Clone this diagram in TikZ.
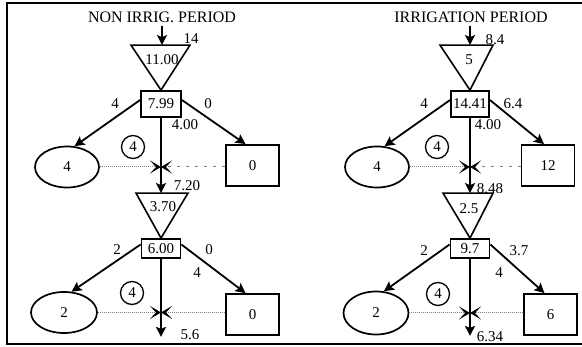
\documentclass[tikz,border=0pt]{standalone}
\usepackage{fontspec}
\setmainfont{Liberation Serif}
\usetikzlibrary{positioning, calc, arrows.meta, shapes.geometric}

\begin{document}
\begin{tikzpicture}[
    x=1pt,
    y=-1pt,
    font=\fontsize{15}{18}\selectfont,
    title/.style={
        font=\fontsize{16}{19}\selectfont,
    },
    storage/.style={
        draw,
        line width=1.8pt,
        inner sep=1pt,
        minimum width=39pt,
        minimum height=19pt,
    },
    user/.style={
        draw,
        ellipse,
        line width=1.7pt,
        minimum width=64pt,
        minimum height=41pt,
    },
    sink/.style={
        draw,
        line width=1.8pt,
        minimum width=53pt,
        minimum height=41pt,
    },
    crop/.style={
        draw,
        circle,
        line width=1.3pt,
        inner sep=0pt,
        minimum size=23pt,
    },
    reservoir/.style={
        line width=1.6pt,
        line join=miter,
    },
    flow/.style={
        -{Stealth[length=10pt, width=10pt, inset=2pt]},
        line width=1.8pt,
    },
    backflow/.style={
        -{Stealth[length=11pt, width=13pt, inset=6pt, black]},
        densely dotted,
        gray,
        line width=1pt,
    },
]

    \useasboundingbox (0,0) rectangle (582,347);
    \draw[line width=2.2pt] (582,3) -- (7,3) -- (7,344) -- (582,344);

    % non irrigation period
    \node[title] (titleN) at (162,17) {NON IRRIG. PERIOD};
    \node[storage, minimum width=40pt, minimum height=26pt] (storeN1) at (161,104) {7.99};
    \draw[reservoir] ($(storeN1.north)+(-30,-45)$) -- ($(storeN1.north)+(29,-45)$) -- (storeN1.north) -- cycle;
    \node (tankN1) at ($(storeN1.north)+(1,-30)$) {11.00};
    \coordinate (topN1) at ($(storeN1.north)+(1,-45)$);
    \coordinate (inN1) at ($(topN1)+(0,-19)$);
    \node[user] (userN1) at (67,167) {4};
    \node[sink] (sinkN1) at (252.5,165.5) {0};
    \node[crop] (cropN1) at (133,147) {4};
    \coordinate (mixN1) at (storeN1 |- userN1);

    \node[storage] (storeN2) at (161,248.5) {6.00};
    \draw[reservoir] ($(storeN2.north)+(-25,-45)$) -- ($(storeN2.north)+(27,-45)$) -- (storeN2.north) -- cycle;
    \node (tankN2) at ($(storeN2.north)+(2,-31)$) {3.70};
    \coordinate (topN2) at ($(storeN2.north)+(0,-45)$);
    \node[user, minimum width=66pt] (userN2) at (64,312.5) {2};
    \node[sink] (sinkN2) at (252.5,314.5) {0};
    \node[crop] (cropN2) at (132,293) {4};
    \coordinate (mixN2) at (storeN2 |- userN2);
    \coordinate (outN) at ($(storeN2.south)+(0,78)$);

    \draw[flow] (inN1) -- (topN1);
    \draw[flow] ($(storeN1.west)+(0,-4)$) -- (userN1.70);
    \draw[flow] ($(storeN1.east)+(0,-4)$) -- ([xshift=-7pt]sinkN1.north);
    \draw[flow] (storeN1.south) -- (topN2);
    \draw[backflow] (userN1.east) -- (mixN1);
    \draw[backflow, loosely dashed] (sinkN1.west |- mixN1) -- (mixN1);
    \draw[flow] ($(storeN2.west)+(0,-4)$) -- (userN2.70);
    \draw[flow] ($(storeN2.east)+(0,-4)$) -- ([xshift=-7pt]sinkN2.north);
    \draw[flow] (storeN2.south) -- (outN);
    \draw[backflow] (userN2.east) -- (mixN2);
    \draw[backflow] (sinkN2.west |- mixN2) -- (mixN2);

    \node (qinN) at (191,39) {14};
    \node (quN1) at (115,104) {4};
    \node (qsN1) at (208,104) {0};
    \node (qdN1) at (185,125) {4.00};
    \node (qmN1) at (187,186) {7.20};
    \node (quN2) at (117,250) {2};
    \node (qsN2) at (209,250) {0};
    \node (qdN2) at (197,273) {4};
    \node (qoutN) at (190,335) {5.6};

    % irrigation period
    \node[title] (titleI) at (471,17) {IRRIGATION PERIOD};
    \node[storage, minimum width=38pt, minimum height=26pt] (storeI1) at (470,104) {14.41};
    \draw[reservoir] ($(storeI1.north)+(-30,-45)$) -- ($(storeI1.north)+(23,-45)$) -- (storeI1.north) -- cycle;
    \node (tankI1) at ($(storeI1.north)+(-1,-30)$) {5};
    \coordinate (topI1) at ($(storeI1.north)+(0,-45)$);
    \coordinate (inI1) at ($(topI1)+(0,-19)$);
    \node[user] (userI1) at (377,167) {4};
    \node[sink] (sinkI1) at (548,165.5) {12};
    \node[crop] (cropI1) at (437,147) {4};
    \coordinate (mixI1) at (storeI1 |- userI1);

    \node[storage] (storeI2) at (470,248.5) {9.7};
    \draw[reservoir] ($(storeI2.north)+(-27,-45)$) -- ($(storeI2.north)+(23,-45)$) -- (storeI2.north) -- cycle;
    \node (tankI2) at ($(storeI2.north)+(-1,-29)$) {2.5};
    \coordinate (topI2) at ($(storeI2.north)+(0,-45)$);
    \node[user, minimum width=65pt, minimum height=43pt] (userI2) at (376,313) {2};
    \node[sink] (sinkI2) at (550.5,314.5) {6};
    \node[crop] (cropI2) at (438,294) {4};
    \coordinate (mixI2) at (storeI2 |- userI2);
    \coordinate (outI) at ($(storeI2.south)+(0,77)$);

    \draw[flow] (inI1) -- (topI1);
    \draw[flow] ($(storeI1.west)+(0,-4)$) -- (userI1.70);
    \draw[flow] ($(storeI1.east)+(0,-4)$) -- ([xshift=-4pt]sinkI1.north);
    \draw[flow] (storeI1.south) -- (topI2);
    \draw[backflow] (userI1.east) -- (mixI1);
    \draw[backflow, loosely dashed] (sinkI1.west |- mixI1) -- (mixI1);
    \draw[flow] ($(storeI2.west)+(0,-4)$) -- (userI2.70);
    \draw[flow] ($(storeI2.east)+(0,-4)$) -- ([xshift=-6pt]sinkI2.north);
    \draw[flow] (storeI2.south) -- (outI);
    \draw[backflow] (userI2.east) -- (mixI2);
    \draw[backflow] (sinkI2.west |- mixI2) -- (mixI2);

    \node (qinI) at (495,40) {8.4};
    \node (quI1) at (424,104) {4};
    \node (qsI1) at (513,104) {6.4};
    \node (qdI1) at (488,125) {4.00};
    \node (qmI1) at (490,189) {8.48};
    \node (quI2) at (424,251) {2};
    \node (qsI2) at (519,251) {3.7};
    \node (qdI2) at (499,273) {4};
    \node (qoutI) at (490,337) {6.34};

\end{tikzpicture}
\end{document}
